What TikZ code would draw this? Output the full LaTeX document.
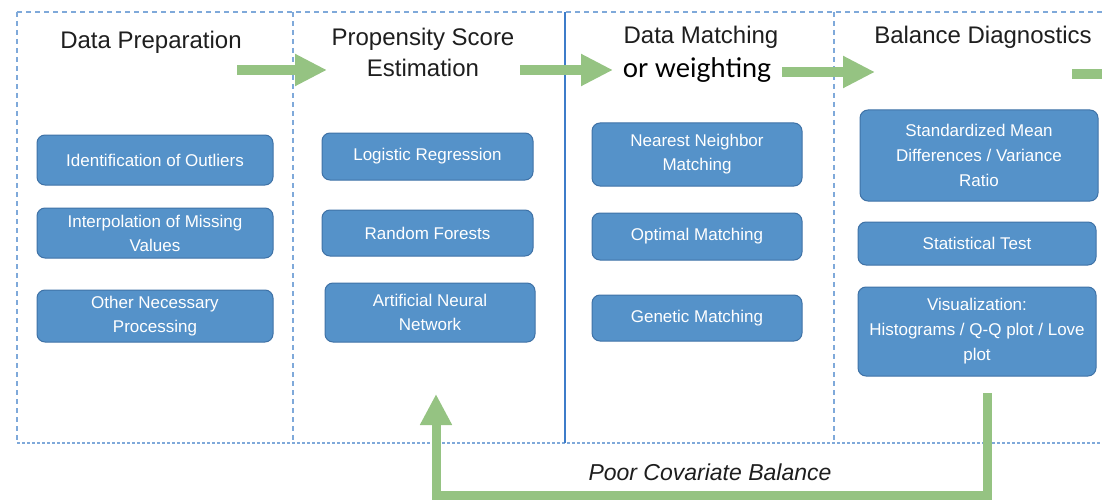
\documentclass[tikz,border=0pt]{standalone}
\usepackage{fontspec}
\setmainfont{Liberation Sans}
\newfontfamily\gillish{Lato}
\usetikzlibrary{arrows.meta}
\definecolor{boxblue}{HTML}{5592C9}
\definecolor{boxedge}{HTML}{3F72A6}
\definecolor{arrowgreen}{HTML}{95C382}
\definecolor{dashblue}{HTML}{7FA9DA}
\definecolor{solidblue}{HTML}{3D7CC9}
\definecolor{headtext}{HTML}{1E1E1E}
\tikzset{
  stepbox/.style={rounded corners=8pt, fill=boxblue, draw=boxedge, line width=1pt,
    text=white, align=center, inner sep=2pt,
    font=\fontsize{17}{24}\selectfont},
  header/.style={text=headtext, align=center, font=\fontsize{24}{31}\selectfont},
  flow/.style={draw=arrowgreen, line width=10pt,
    -{Triangle[length=32pt,width=30pt]}},
  frameline/.style={draw=dashblue, line width=1.2pt, dash pattern=on 5pt off 4pt},
}
\begin{document}
\begin{tikzpicture}[x=1pt,y=-1pt]
\useasboundingbox (0,0) rectangle (1102,500);
% frame
\draw[frameline] (17,12) -- (1102,12);
\draw[frameline] (17,12) -- (17,443);
\draw[frameline, dash pattern=on 3pt off 2pt] (17,443) -- (1102,443);
\draw[frameline] (293,12) -- (293,443);
\draw[draw=solidblue, line width=1.5pt] (565,12) -- (565,443);
\draw[frameline] (834,12) -- (834,443);
% headers
\node[header] (h1) at (151,42) {Data Preparation};
\node[header] (h2) at (423,52.5) {Propensity Score\\Estimation};
\node[header] (h3) at (701,37) {Data Matching};
\node[text=black, font=\gillish\fontsize{27}{30}\selectfont] (h3b) at (697,70) {or weighting};
\node[header] (h4) at (983,37) {Balance Diagnostics};
% column 1
\node[stepbox, minimum width=236pt, minimum height=50pt] (c1a) at (155,160) {Identification of Outliers};
\node[stepbox, minimum width=236pt, minimum height=50pt] (c1b) at (155,233) {Interpolation of Missing\\Values};
\node[stepbox, minimum width=236pt, minimum height=52pt] (c1c) at (155,316) {Other Necessary\\Processing};
% column 2
\node[stepbox, minimum width=211pt, minimum height=47pt] (c2a) at (427.5,156.5) {Logistic Regression};
\node[stepbox, minimum width=211pt, minimum height=46pt] (c2b) at (427.5,233) {Random Forests};
\node[stepbox, minimum width=210pt, minimum height=59pt] (c2c) at (430,312.5) {Artificial Neural\\Network};
% column 3
\node[stepbox, minimum width=210pt, minimum height=63pt] (c3a) at (697,154.5) {Nearest Neighbor\\Matching};
\node[stepbox, minimum width=210pt, minimum height=47pt] (c3b) at (697,236.5) {Optimal Matching};
\node[stepbox, minimum width=210pt, minimum height=46pt] (c3c) at (697,318) {Genetic Matching};
% column 4
\node[stepbox, minimum width=238pt, minimum height=91pt, font=\fontsize{17}{25}\selectfont] (c4a) at (979,155.5) {Standardized Mean\\Differences / Variance\\Ratio};
\node[stepbox, minimum width=238pt, minimum height=43pt] (c4b) at (977,243.5) {Statistical Test};
\node[stepbox, minimum width=238pt, minimum height=89pt, font=\fontsize{17}{25}\selectfont] (c4c) at (977,331.5) {Visualization:\\Histograms / Q-Q plot / Love\\plot};
% flow arrows
\coordinate (a1s) at (237,70); \coordinate (a1e) at (327,70);
\coordinate (a2s) at (520,70); \coordinate (a2e) at (613,70);
\coordinate (a3s) at (782,72); \coordinate (a3e) at (875,72);
\coordinate (a4s) at (1072,74); \coordinate (a4e) at (1102,74);
\draw[flow] (a1s) -- (a1e);
\draw[flow] (a2s) -- (a2e);
\draw[flow] (a3s) -- (a3e);
\draw[draw=arrowgreen, line width=10pt] (a4s) -- (a4e);
% feedback loop
\coordinate (fbs) at (987,393);
\coordinate (fbc) at (436,495);
\coordinate (fbe) at (436,394);
\draw[flow, line width=9pt, -{Triangle[length=31pt,width=30pt]}] (fbs) |- (fbc) -- (fbe);
\node[font=\itshape\fontsize{23}{26}\selectfont, text=headtext] (fbl) at (710,472) {Poor Covariate Balance};
\end{tikzpicture}
\end{document}
